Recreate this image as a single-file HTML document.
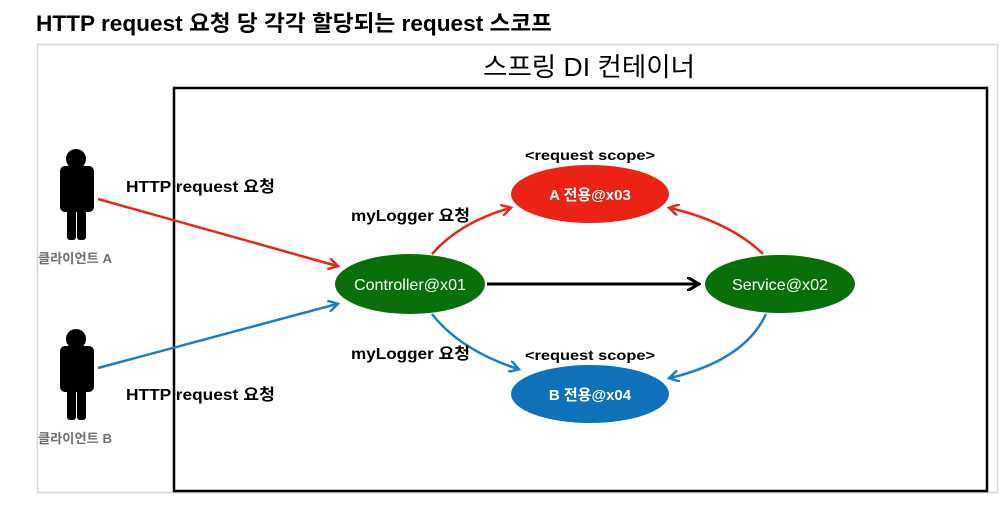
<!DOCTYPE html>
<html><head><meta charset="utf-8"><style>
body{margin:0;width:1006px;height:522px;background:#fff;overflow:hidden;font-family:"Liberation Sans","Noto Sans CJK KR",sans-serif;}
</style></head><body>
<svg width="1006" height="522" xmlns="http://www.w3.org/2000/svg" style="position:absolute;left:0;top:0">
<defs>
<marker id="r" markerWidth="12" markerHeight="12" refX="9" refY="6" orient="auto" markerUnits="userSpaceOnUse" viewBox="0 0 12 12"><path d="M0,0 L10,6 L0,12" fill="none" stroke="#e8261a" stroke-width="2.5"/></marker>
<marker id="b" markerWidth="12" markerHeight="12" refX="9" refY="6" orient="auto" markerUnits="userSpaceOnUse" viewBox="0 0 12 12"><path d="M0,0 L10,6 L0,12" fill="none" stroke="#1e7fc4" stroke-width="2.5"/></marker>
<marker id="k" markerWidth="14" markerHeight="14" refX="10" refY="7" orient="auto" markerUnits="userSpaceOnUse" viewBox="0 0 14 14"><path d="M0,0 L12,7 L0,14" fill="none" stroke="#000" stroke-width="3"/></marker>
</defs>
<text x="36" y="31" font-size="22" font-weight="bold" font-family="Liberation Sans, Noto Sans CJK KR, sans-serif" textLength="516" lengthAdjust="spacingAndGlyphs">HTTP request 요청 당 각각 할당되는 request 스코프</text>
<rect x="37.5" y="44.5" width="960" height="448" fill="none" stroke="#d6d6d6" stroke-width="1.5"/>
<text x="589" y="76" font-size="26" text-anchor="middle" font-family="Liberation Sans, Noto Sans CJK KR, sans-serif" textLength="212" lengthAdjust="spacingAndGlyphs">스프링 DI 컨테이너</text>
<rect x="174" y="88" width="813" height="403" fill="none" stroke="#000" stroke-width="2.5"/>
<g fill="#000">
<circle cx="76" cy="159" r="10"/>
<rect x="60" y="166" width="34" height="46" rx="5"/>
<rect x="67" y="200" width="9" height="40" rx="3"/><rect x="77" y="200" width="9" height="40" rx="3"/>
<circle cx="76" cy="339" r="10"/>
<rect x="60" y="346" width="34" height="46" rx="5"/>
<rect x="67" y="380" width="9" height="40" rx="3"/><rect x="77" y="380" width="9" height="40" rx="3"/>
</g>
<text x="38" y="263" font-size="13" font-weight="bold" fill="#707070" textLength="74" lengthAdjust="spacingAndGlyphs">클라이언트 A</text>
<text x="38" y="443" font-size="13" font-weight="bold" fill="#707070" textLength="74" lengthAdjust="spacingAndGlyphs">클라이언트 B</text>
<line x1="98" y1="199" x2="337" y2="266" stroke="#e8261a" stroke-width="2.5" marker-end="url(#r)"/>
<line x1="98" y1="368" x2="337" y2="304" stroke="#1e7fc4" stroke-width="2.5" marker-end="url(#b)"/>
<path d="M432,254 Q460,222 510,208" fill="none" stroke="#e8261a" stroke-width="2.5" marker-end="url(#r)"/>
<path d="M432,314 Q460,350 518,369" fill="none" stroke="#1e7fc4" stroke-width="2.5" marker-end="url(#b)"/>
<path d="M763,254 Q730,222 670,208" fill="none" stroke="#e8261a" stroke-width="2.5" marker-end="url(#r)"/>
<path d="M766,314 Q745,360 670,378" fill="none" stroke="#1e7fc4" stroke-width="2.5" marker-end="url(#b)"/>
<line x1="487" y1="284" x2="697" y2="284" stroke="#000" stroke-width="3" marker-end="url(#k)"/>
<ellipse cx="410" cy="284" rx="75" ry="30" fill="#097009"/>
<ellipse cx="780" cy="284" rx="75" ry="29" fill="#097009"/>
<ellipse cx="590" cy="194" rx="79" ry="29" fill="#ec2314"/>
<ellipse cx="590" cy="394" rx="79" ry="29" fill="#0d72ba"/>
<g font-size="16" fill="#fff" text-anchor="middle">
<text x="410" y="290" textLength="112" lengthAdjust="spacingAndGlyphs">Controller@x01</text>
<text x="780" y="290" textLength="96" lengthAdjust="spacingAndGlyphs">Service@x02</text>
<text x="590" y="200" font-weight="bold" font-size="15">A 전용@x03</text>
<text x="590" y="400" font-weight="bold" font-size="15">B 전용@x04</text>
</g>
<g font-size="16" font-weight="bold">
<text x="126" y="192" textLength="149" lengthAdjust="spacingAndGlyphs">HTTP request 요청</text>
<text x="126" y="400" textLength="149" lengthAdjust="spacingAndGlyphs">HTTP request 요청</text>
<text x="351" y="221" textLength="119" lengthAdjust="spacingAndGlyphs">myLogger 요청</text>
<text x="351" y="359" textLength="119" lengthAdjust="spacingAndGlyphs">myLogger 요청</text>
<text x="525" y="160" font-size="14" textLength="130" lengthAdjust="spacingAndGlyphs">&lt;request scope&gt;</text>
<text x="525" y="360" font-size="14" textLength="130" lengthAdjust="spacingAndGlyphs">&lt;request scope&gt;</text>
</g>
</svg>
</body></html>
